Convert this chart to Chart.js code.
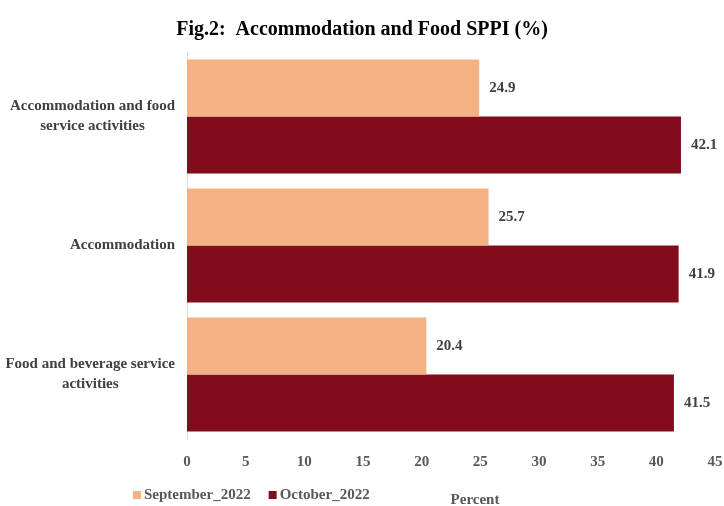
<!DOCTYPE html>
<html>
<head>
<meta charset="utf-8">
<script src="https://cdn.jsdelivr.net/npm/chart.js@4/dist/chart.umd.min.js"></script>
<style>
    html, body { margin: 0; padding: 0; background: #ffffff; }
    #wrap { width: 724px; height: 506px; }
</style>
</head>
<body>
<div id="wrap"><canvas id="barChart"></canvas></div>
<script>
// Datos del grafico
const categories = [
    ["Accommodation and food", "service activities"],
    ["Accommodation"],
    ["Food and beverage service", "activities"],
];
const september2022 = [24.9, 25.7, 20.4];
const october2022 = [42.1, 41.9, 41.5];
const xTicks = [0, 5, 10, 15, 20, 25, 30, 35, 40, 45];

const FONT = "'Liberation Serif', 'Times New Roman', serif";
const colors = ["#F4B183", "#820C1C"];

// Etiquetas de categoria: bloque alineado a la derecha, lineas centradas
const categoryLabels = {
    id: "categoryLabels",
    afterDraw(chart) {
        const ctx = chart.ctx;
        const yScale = chart.scales.y;
        ctx.save();
        ctx.font = "bold 15px " + FONT;
        ctx.fillStyle = "#404040";
        ctx.textAlign = "center";
        ctx.textBaseline = "middle";
        categories.forEach((lines, i) => {
            const yc = yScale.getPixelForTick(i);
            const maxW = Math.max(...lines.map((l) => ctx.measureText(l).width));
            const xc = yScale.right - 12 - maxW / 2;
            const lh = 20;
            lines.forEach((line, j) => {
                ctx.fillText(line, xc, yc + (j - (lines.length - 1) / 2) * lh);
            });
        });
        ctx.restore();
    },
};

// Valores al final de cada barra
const valueLabels = {
    id: "valueLabels",
    afterDatasetsDraw(chart) {
        const ctx = chart.ctx;
        ctx.save();
        ctx.font = "bold 15px " + FONT;
        ctx.fillStyle = "#404040";
        ctx.textAlign = "left";
        ctx.textBaseline = "middle";
        chart.data.datasets.forEach((ds, di) => {
            chart.getDatasetMeta(di).data.forEach((bar, i) => {
                ctx.fillText(ds.data[i].toFixed(1), bar.x + 10, bar.y);
            });
        });
        ctx.restore();
    },
};

// Leyenda y titulo del eje en la misma linea
const bottomLegend = {
    id: "bottomLegend",
    afterDraw(chart) {
        const ctx = chart.ctx;
        const y = 495;
        let x = 133;
        ctx.save();
        ctx.font = "bold 15px " + FONT;
        ctx.textBaseline = "middle";
        ctx.textAlign = "left";
        chart.data.datasets.forEach((ds) => {
            ctx.fillStyle = ds.backgroundColor;
            ctx.fillRect(x, y - 4, 8, 8);
            x += 11;
            ctx.fillStyle = "#595959";
            ctx.fillText(ds.label, x, y);
            x += ctx.measureText(ds.label).width + 18;
        });
        ctx.textAlign = "center";
        ctx.fillText("Percent", 475, 500);
        ctx.restore();
    },
};

const ctx = document.getElementById("barChart").getContext("2d");
new Chart(ctx, {
    type: "bar",
    data: {
        labels: categories,
        datasets: [
            {
                label: "September_2022",
                data: september2022,
                backgroundColor: colors[0],
            },
            {
                label: "October_2022",
                data: october2022,
                backgroundColor: colors[1],
            },
        ],
    },
    options: {
        indexAxis: "y",
        responsive: true,
        maintainAspectRatio: false,
        animation: false,
        categoryPercentage: 0.884,
        barPercentage: 1.0,
        layout: { padding: 0 },
        scales: {
            x: {
                min: 0,
                max: 45,
                afterBuildTicks: (scale) => {
                    scale.ticks = xTicks.map((v) => ({ value: v }));
                },
                afterFit: (scale) => {
                    scale.height = 67;
                    scale.paddingRight = 9;
                },
                grid: { display: false, drawTicks: false },
                border: { display: false },
                ticks: {
                    padding: 14,
                    color: "#595959",
                    font: { family: FONT, size: 15, weight: "bold" },
                },
            },
            y: {
                afterFit: (scale) => {
                    scale.width = 187;
                },
                grid: { display: false, drawTicks: false },
                border: { display: true, color: "#d9d9d9", width: 1 },
                ticks: { display: false },
            },
        },
        plugins: {
            legend: { display: false },
            tooltip: { enabled: false },
            title: {
                display: true,
                text: "Fig.2:  Accommodation and Food SPPI (%)",
                color: "#000000",
                font: { family: FONT, size: 20, weight: "bold" },
                padding: { top: 18, bottom: 10 },
            },
        },
    },
    plugins: [categoryLabels, valueLabels, bottomLegend],
});
</script>
</body>
</html>
